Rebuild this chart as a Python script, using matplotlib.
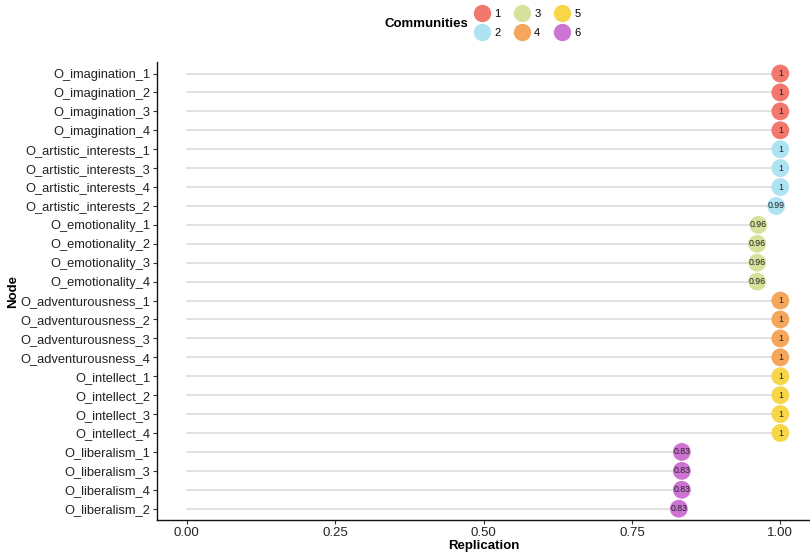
import matplotlib.pyplot as plt
from matplotlib.lines import Line2D

plt.rcParams['font.family'] = ['Liberation Sans', 'DejaVu Sans']

# Data
nodes = ['O_imagination_1', 'O_imagination_2', 'O_imagination_3', 'O_imagination_4',
         'O_artistic_interests_1', 'O_artistic_interests_3', 'O_artistic_interests_4',
         'O_artistic_interests_2', 'O_emotionality_1', 'O_emotionality_2',
         'O_emotionality_3', 'O_emotionality_4', 'O_adventurousness_1',
         'O_adventurousness_2', 'O_adventurousness_3', 'O_adventurousness_4',
         'O_intellect_1', 'O_intellect_2', 'O_intellect_3', 'O_intellect_4',
         'O_liberalism_1', 'O_liberalism_3', 'O_liberalism_4', 'O_liberalism_2']
replication = [1, 1, 1, 1, 1, 1, 1, 0.993, 0.963, 0.961, 0.961, 0.961,
               1, 1, 1, 1, 1, 1, 1, 1, 0.834, 0.834, 0.834, 0.829]
community = [1, 1, 1, 1, 2, 2, 2, 2, 3, 3, 3, 3, 4, 4, 4, 4, 5, 5, 5, 5, 6, 6, 6, 6]
comm_labels = ['1', '2', '3', '4', '5', '6']
comm_colors = ['#F2776C', '#AEE3F2', '#D6E29C', '#F4A65B', '#F7D64A', '#CD74D2']

fig = plt.figure(figsize=(8.1, 5.55), dpi=100)
ax = fig.add_axes([0.194, 0.063, 0.806, 0.825])

ypos = list(range(len(nodes)))[::-1]

for y, v, c in zip(ypos, replication, community):
    ax.plot([0, v], [y, y], color='#d9d9d9', lw=1.1, zorder=1)
    ax.scatter(v, y, s=165, color=comm_colors[c - 1], edgecolors='none', zorder=2)
    txt = '1' if round(v, 2) == 1 else f'{v:.2f}'
    ax.text(v, y, txt, ha='center', va='center', fontsize=6.3, color='#222222', zorder=3)

ax.set_xlim(-0.05, 1.05)
ax.set_ylim(-0.6, len(nodes) - 0.4)
ax.set_yticks(ypos)
ax.set_yticklabels(nodes, fontsize=9.3, color='#222222')
ax.set_xticks([0, 0.25, 0.5, 0.75, 1.0])
ax.set_xticklabels(['0.00', '0.25', '0.50', '0.75', '1.00'], fontsize=9.5, color='#222222')
ax.tick_params(length=3, width=0.8, color='#333333', pad=2)
for s in ['top', 'right']:
    ax.spines[s].set_visible(False)
for s in ['left', 'bottom']:
    ax.spines[s].set_linewidth(1.0)
    ax.spines[s].set_color('#111111')

ax.set_xlabel('Replication', fontsize=9.5, fontweight='bold', labelpad=1)
ax.set_ylabel('Node', fontsize=9.5, fontweight='bold')
ax.yaxis.set_label_coords(-0.212, 0.5)

handles = [Line2D([], [], marker='o', ls='none', markersize=12.5,
                  markerfacecolor=col, markeredgecolor='none', label=lab)
           for col, lab in zip(comm_colors, comm_labels)]
fig.legend(handles=handles, ncol=3, loc='center', bbox_to_anchor=(0.651, 0.958),
           frameon=False, fontsize=8, handletextpad=0.4, columnspacing=1.25,
           labelspacing=0.85, handlelength=1.4)
fig.text(0.578, 0.957, 'Communities', fontsize=9.5, fontweight='bold',
         ha='right', va='center')

fig.savefig('out.png', dpi=100)
